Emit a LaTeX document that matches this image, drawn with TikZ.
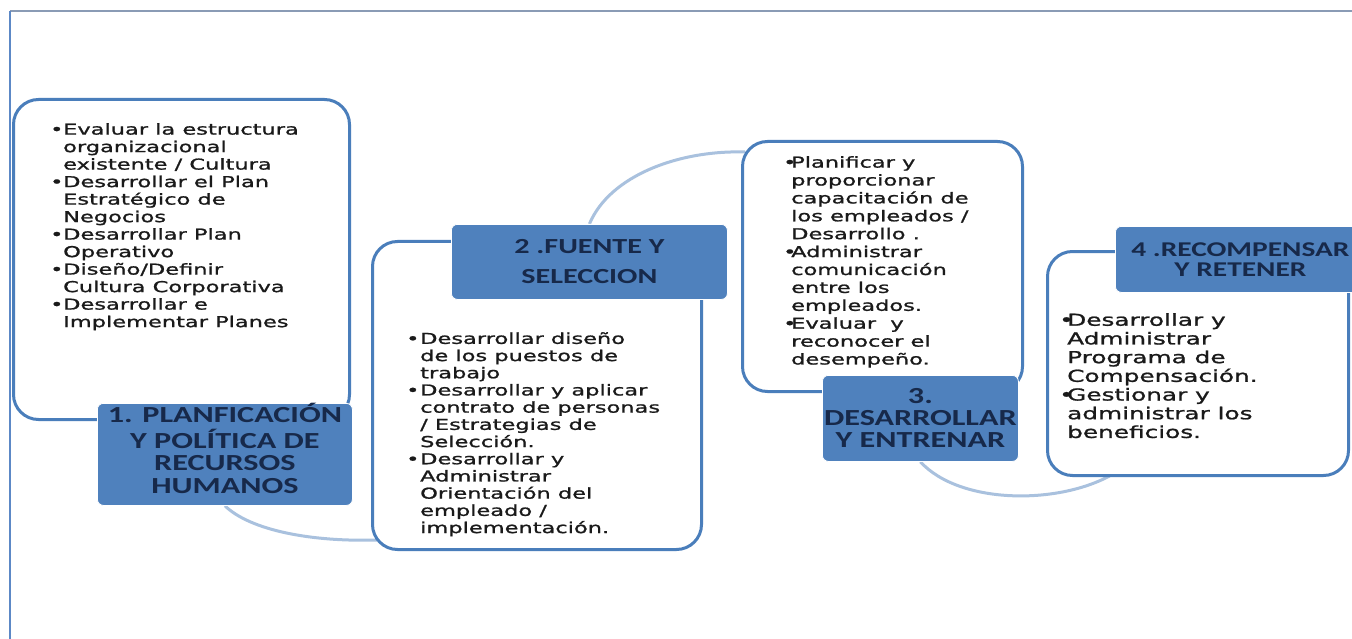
\documentclass[tikz,border=0pt]{standalone}
\usepackage{fontspec}
\usetikzlibrary{backgrounds}
\newfontfamily\bodyf[FakeStretch=1.5, FakeBold=1.2]{DejaVu Sans}
\newfontfamily\labf[FakeStretch=1.4]{Carlito Bold}
\definecolor{outl}{HTML}{4A7EBB}
\definecolor{arcc}{HTML}{A9C1DE}
\definecolor{labfill}{HTML}{4F81BD}
\definecolor{labtext}{HTML}{17294A}
\definecolor{bodytext}{HTML}{1A1A1A}
\definecolor{frametop}{HTML}{8A9BB5}
\definecolor{frameleft}{HTML}{5C88C6}
\newlength\bindent
\newcommand\bitem[1]{\makebox[\bindent][l]{•}#1}
\newcommand\bcont[1]{\hspace*{\bindent}#1}
\tikzset{
  outlinebox/.style={draw=outl, line width=3pt, fill=white, rounded corners=25pt, inner sep=0pt, anchor=north west},
  labelbox/.style={draw=white, line width=0.8pt, fill=labfill, rounded corners=6pt, text=labtext, align=center, inner sep=0pt, anchor=north west},
  bodybox/.style={text=bodytext, align=left, inner sep=0pt, anchor=north west},
  arcline/.style={draw=arcc, line width=3pt},
}
\begin{document}
\begin{tikzpicture}[x=1pt, y=-1pt]
\useasboundingbox (0,0) rectangle (1352,639);
% frame
\coordinate (ftl) at (10,11);
\coordinate (ftr) at (1352,11);
\coordinate (fbl) at (10,639);
\draw[frametop, line width=2pt] (ftl) -- (ftr);
\draw[frameleft, line width=2pt] (ftl) -- (fbl);

% arc end coordinates
\coordinate (a1e) at (377,540);
\coordinate (a2e) at (745,152);
\coordinate (a3e) at (1113,474);

% outline boxes
\node[outlinebox, minimum width=336pt, minimum height=320pt] (b1) at (12,98) {};
\node[outlinebox, minimum width=329pt, minimum height=308pt] (b2) at (371,240) {};
\node[outlinebox, minimum width=280pt, minimum height=250pt] (b3) at (741,140) {};
\node[outlinebox, minimum width=301pt, minimum height=224pt] (b4) at (1046,250) {};

% labels
\node[labelbox, minimum width=255pt, minimum height=102pt, font=\labf\fontsize{23}{22.5}\selectfont] (l1) at (97,403) {\raisebox{3pt}[\height][\depth]{\begin{tabular}{@{}c@{}}1. PLANFICACIÓN\\Y POLÍTICA DE\\RECURSOS\\HUMANOS\end{tabular}}};
\node[labelbox, minimum width=276pt, minimum height=75pt, font=\labf\fontsize{21.5}{30}\selectfont] (l2) at (451,224) {2 .FUENTE Y\\SELECCION};
\node[labelbox, minimum width=196pt, minimum height=86pt, font=\labf\fontsize{23}{22}\selectfont] (l3) at (822,375) {3.\\DESARROLLAR\\Y ENTRENAR};
\node[labelbox, minimum width=250pt, minimum height=66pt, font=\labf\fontsize{21}{20}\selectfont] (l4) at (1115,226) {4 .RECOMPENSAR\\Y RETENER};

% connectors (behind everything)
\begin{pgfonlayer}{background}
\fill[white] (0,0) rectangle (1352,639);
\draw[arcline] (l1.south) .. controls (250,530) and (310,542) .. (a1e);
\draw[arcline] (l2.north) .. controls (610,175) and (680,150) .. (a2e);
\draw[arcline] (l3.south) .. controls (960,505) and (1060,505) .. (a3e);
\end{pgfonlayer}

% body texts
\global\bindent=13pt\relax
\node[bodybox, font=\bodyf\fontsize{15}{17.5}\selectfont] (t1) at (50,123) {%
\bitem{Evaluar la estructura}\\
\bcont{organizacional}\\
\bcont{existente / Cultura}\\
\bitem{Desarrollar el Plan}\\
\bcont{Estratégico de}\\
\bcont{Negocios}\\
\bitem{Desarrollar Plan}\\
\bcont{Operativo}\\
\bitem{Diseño/Definir}\\
\bcont{Cultura Corporativa}\\
\bitem{Desarrollar e}\\
\bcont{Implementar Planes}};

\global\bindent=14pt\relax
\node[bodybox, font=\bodyf\fontsize{15}{17.2}\selectfont] (t2) at (406,332) {%
\bitem{Desarrollar diseño}\\
\bcont{de los puestos de}\\
\bcont{trabajo}\\
\bitem{Desarrollar y aplicar}\\
\bcont{contrato de personas}\\
\bcont{/ Estrategias de}\\
\bcont{Selección.}\\
\bitem{Desarrollar y}\\
\bcont{Administrar}\\
\bcont{Orientación del}\\
\bcont{empleado /}\\
\bcont{implementación.}};

\global\bindent=8pt\relax
\node[bodybox, font=\bodyf\fontsize{15}{17.9}\selectfont] (t3) at (783,156) {%
\bitem{Planificar y}\\
\bcont{proporcionar}\\
\bcont{capacitación de}\\
\bcont{los empleados /}\\
\bcont{Desarrollo .}\\
\bitem{Administrar}\\
\bcont{comunicación}\\
\bcont{entre los}\\
\bcont{empleados.}\\
\bitem{Evaluar\ \ y}\\
\bcont{reconocer el}\\
\bcont{desempeño.}};

\global\bindent=8pt\relax
\node[bodybox, font=\bodyf\fontsize{16.5}{18.7}\selectfont] (t4) at (1059,313) {%
\bitem{Desarrollar y}\\
\bcont{Administrar}\\
\bcont{Programa de}\\
\bcont{Compensación.}\\
\bitem{Gestionar y}\\
\bcont{administrar los}\\
\bcont{beneficios.}};
\end{tikzpicture}
\end{document}
